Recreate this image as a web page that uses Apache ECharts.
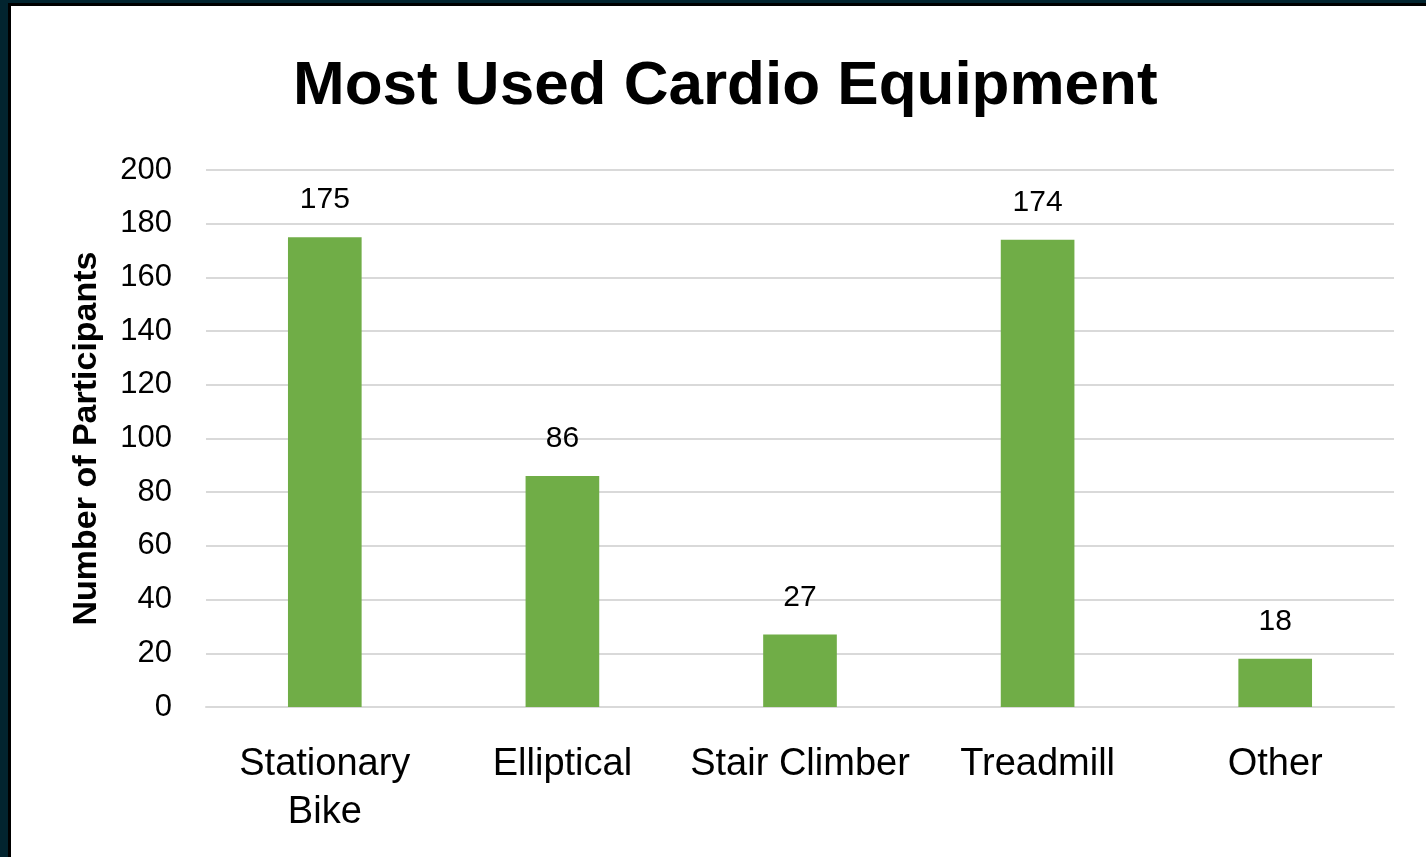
<!DOCTYPE html>
<html>
<head>
<meta charset="utf-8">
<title>Most Used Cardio Equipment</title>
<script src="https://cdn.jsdelivr.net/npm/echarts@6/dist/echarts.min.js"></script>
<style>
  html, body { margin: 0; padding: 0; background: #02242f; overflow: hidden; }
  #frame {
    position: absolute; left: 8px; top: 3px; right: 0; bottom: 0;
    border-left: 3px solid #000; border-top: 3px solid #000;
    background: #fff;
  }
  #chart { width: 1415px; height: 851px; }
</style>
</head>
<body>
<div id="frame"><div id="chart"></div></div>
<script>
// data
var categories = ['Stationary\nBike', 'Elliptical', 'Stair Climber', 'Treadmill', 'Other']
var participants = [175, 86, 27, 174, 18]
var yTicks = { min: 0, max: 200, interval: 20 }

var chart = echarts.init(document.getElementById('chart'))
chart.setOption({
  animation: false,
  textStyle: { fontFamily: 'Liberation Sans' },
  title: {
    text: 'Most Used Cardio Equipment',
    left: 277,
    top: 45,
    textStyle: {
      fontFamily: 'Liberation Sans',
      fontWeight: 'bold',
      fontSize: 62,
      color: '#000'
    }
  },
  grid: {
    left: 195,
    right: 32,
    top: 164,
    bottom: 150
  },
  xAxis: {
    type: 'category',
    data: categories,
    axisLine: { lineStyle: { color: '#d9d9d9', width: 2 } },
    axisTick: { show: false },
    axisLabel: {
      color: '#000',
      fontSize: 38,
      lineHeight: 48,
      margin: 34,
      interval: 0
    }
  },
  yAxis: {
    type: 'value',
    min: yTicks.min,
    max: yTicks.max,
    interval: yTicks.interval,
    name: 'Number of Participants',
    nameLocation: 'middle',
    nameGap: 102,
    nameTextStyle: {
      color: '#000',
      fontWeight: 'bold',
      fontSize: 34
    },
    axisLine: { show: false },
    axisTick: { show: false },
    axisLabel: { color: '#000', fontSize: 31, margin: 34 },
    splitLine: { lineStyle: { color: '#d9d9d9', width: 2 } }
  },
  series: [
    {
      type: 'bar',
      data: participants,
      barWidth: '31%',
      itemStyle: { color: '#70ad47' },
      label: {
        show: true,
        position: 'top',
        distance: 22,
        color: '#000',
        fontSize: 30
      }
    }
  ]
})
</script>
</body>
</html>
